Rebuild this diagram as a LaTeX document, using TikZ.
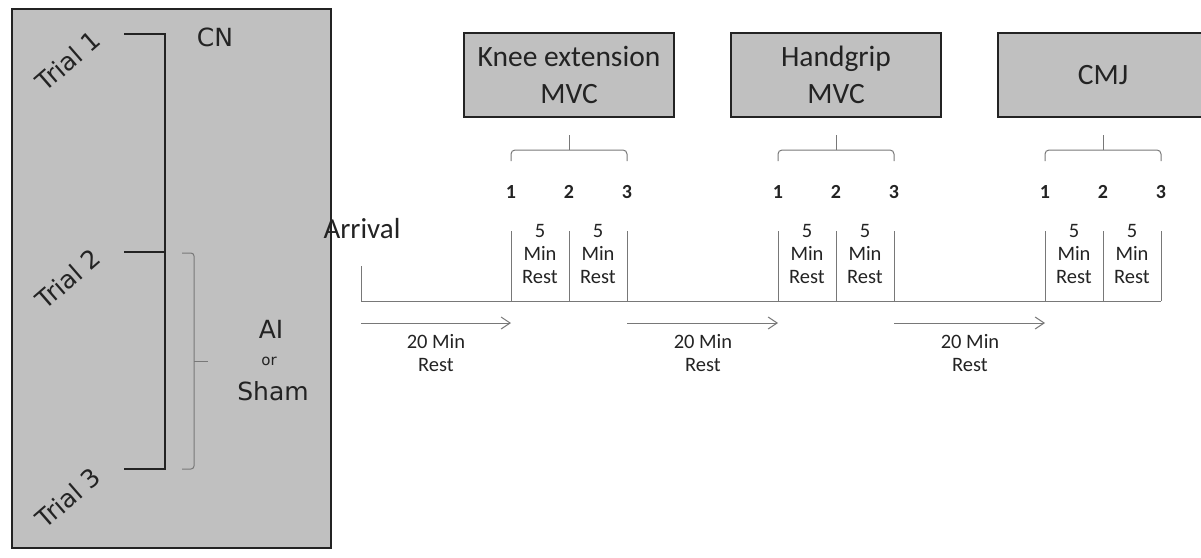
\documentclass[tikz,border=0pt]{standalone}
\usepackage{fontspec}
\setmainfont{Carlito}
\newfontfamily\panelfont{DejaVu Sans}
\usetikzlibrary{arrows.meta,positioning}
\definecolor{boxgray}{RGB}{192,192,192}
\definecolor{linegray}{RGB}{120,120,120}
\definecolor{inkgray}{RGB}{35,35,35}
\tikzstyle{taskbox}=[draw=inkgray, line width=1.3pt, fill=boxgray,
  minimum width=210pt, minimum height=84pt, align=center,
  text=inkgray, font=\fontsize{29.5}{37}\selectfont]
\tikzstyle{restnote}=[align=center, text=inkgray, font=\fontsize{20.5}{23}\selectfont]
\tikzstyle{trialno}=[text=inkgray, font=\bfseries\fontsize{20}{23}\selectfont]
\tikzstyle{panelnote}=[text=inkgray, font=\panelfont\fontsize{25}{28}\selectfont]
\tikzstyle{trialname}=[panelnote, rotate=41]
\tikzstyle{timeline}=[draw=linegray, line width=1pt]
\tikzstyle{gaparrow}=[timeline, -{Straight Barb[length=9pt,width=12pt]}]
\tikzstyle{bracket}=[draw=inkgray, line width=1.3pt]
\tikzstyle{curly}=[draw=linegray, line width=1pt, rounded corners=4pt]
\newcommand{\task}[2]{node (t#1) [taskbox] {#2}}
\newcommand{\rest}[1]{node (r#1) [restnote] {5\\Min\\Rest}}
\newcommand{\restblock}[2]{%
  \path[curly] (#2,161) |- ({#2+58},150) -| ({#2+116},161);
  \path[curly] ({#2+58},150) -- ({#2+58},135);
  \path (#2,192)        node (#1n1) [trialno] {1};
  \path ({#2+58},192)   node (#1n2) [trialno] {2};
  \path ({#2+116},192)  node (#1n3) [trialno] {3};
  \path[timeline] (#2,231) -- (#2,301);
  \path[timeline] ({#2+58},231) -- ({#2+58},301);
  \path[timeline] ({#2+116},231) -- ({#2+116},301);
  \path ({#2+29},254) \rest{#1a};
  \path ({#2+87},254) \rest{#1b};
}

\begin{document}
\begin{tikzpicture}[x=1pt, y=-1pt]
\clip (0,0) rectangle (1201,557);
% Draw trial panel
\path[fill=boxgray, draw=inkgray, line width=1.3pt] (12,9) rectangle (331,548);
\coordinate (c1) at (124,34);
\coordinate (c2) at (124,252);
\coordinate (c3) at (124,469);
\path[bracket] (c1) -- (165,34) -- (165,469) -- (c3);
\path[bracket] (c2) -- (165,252);
\path[curly, rounded corners=3pt] (182,253) -- (194,253) -- (194,469) -- (182,469);
\path[curly] (194,361) -- (208,361);
\path (68,61)  node (n1) [trialname] {Trial 1};
\path (68,279) node (n2) [trialname] {Trial 2};
\path (68,498) node (n3) [trialname] {Trial 3};
\path (215,37)  node (cn) [panelnote] {CN};
\path (271,329) node (ai) [panelnote] {AI};
\path (269,361) node (or) [panelnote, font=\panelfont\fontsize{15}{18}\selectfont] {or};
\path (273,391) node (sham) [panelnote] {Sham};

% Draw diagram elements
\path (569,75)  \task{1}{Knee extension\\MVC};
\path (836,75)  \task{2}{Handgrip\\MVC};
\path (1103,75) \task{3}{CMJ};
\restblock{k}{511}
\restblock{h}{778}
\restblock{c}{1045}

% Draw timeline and rest periods
\path (362,229) node (arrive) [text=inkgray, font=\fontsize{29}{34}\selectfont] {Arrival};
\path[timeline] (361,266) |- (1161,301);
\path[gaparrow] (361,323) -- (511,323);
\path[gaparrow] (627,323) -- (778,323);
\path[gaparrow] (894,323) -- (1045,323);
\path (436,353) node (w1) [restnote] {20 Min\\Rest};
\path (703,353) node (w2) [restnote] {20 Min\\Rest};
\path (970,353) node (w3) [restnote] {20 Min\\Rest};
\end{tikzpicture}
\end{document}
